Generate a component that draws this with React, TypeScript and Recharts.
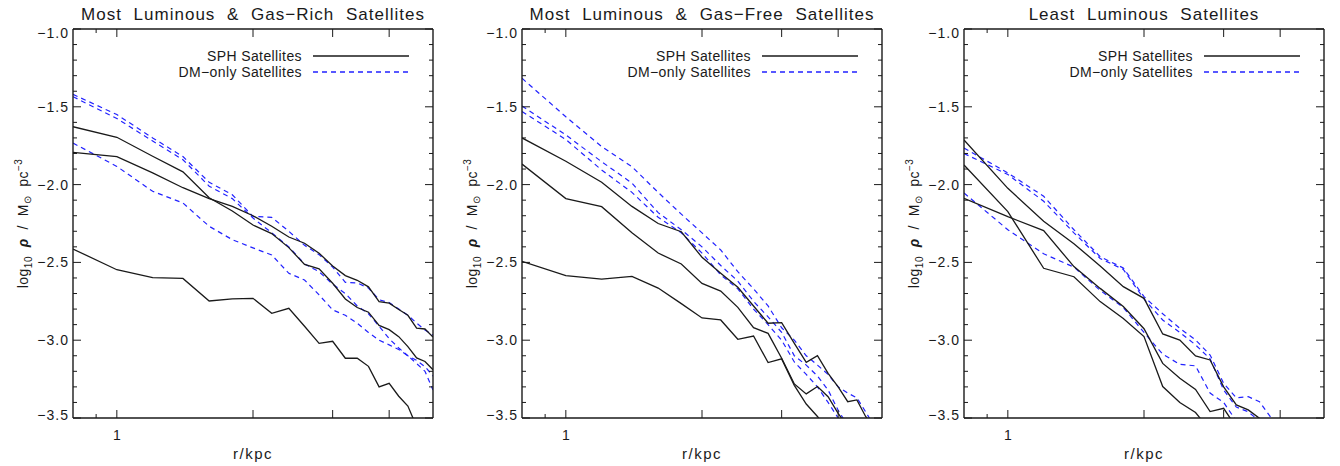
import React from 'react';
import { LineChart, Line, XAxis, YAxis, Legend } from 'recharts';

// radial bins (kpc)
const radius = [0.8, 1.0, 1.2, 1.4, 1.6, 1.8, 2.0, 2.2, 2.4, 2.6, 2.8, 3.0, 3.2, 3.4, 3.6, 3.8, 4.0, 4.2, 4.4, 4.6, 4.8, 5.0];

// most luminous, gas-rich
const richSph1 = [-2.414, -2.547, -2.598, -2.603, -2.748, -2.735, -2.731, -2.827, -2.795, -2.91, -3.02, -3.007, -3.116, -3.116, -3.168, -3.3, -3.277, -3.36, -3.423, -3.556, -3.62, -3.68];
const richSph2 = [-1.628, -1.696, -1.818, -1.918, -2.085, -2.17, -2.26, -2.315, -2.405, -2.513, -2.541, -2.634, -2.735, -2.79, -2.82, -2.905, -2.932, -2.977, -3.041, -3.114, -3.137, -3.19];
const richSph3 = [-1.793, -1.82, -1.925, -2.02, -2.09, -2.14, -2.2, -2.268, -2.337, -2.377, -2.441, -2.523, -2.585, -2.615, -2.657, -2.752, -2.762, -2.803, -2.84, -2.923, -2.928, -2.98];
const richDm1 = [-1.42, -1.55, -1.7, -1.82, -1.985, -2.065, -2.205, -2.21, -2.3, -2.39, -2.45, -2.53, -2.628, -2.632, -2.665, -2.74, -2.758, -2.8, -2.84, -2.89, -2.934, -2.968];
const richDm2 = [-1.435, -1.575, -1.72, -1.84, -2.01, -2.09, -2.215, -2.31, -2.4, -2.51, -2.56, -2.64, -2.7, -2.78, -2.83, -2.91, -2.99, -3.05, -3.1, -3.13, -3.17, -3.23];
const richDm3 = [-1.733, -1.883, -2.043, -2.118, -2.268, -2.354, -2.407, -2.452, -2.57, -2.613, -2.709, -2.805, -2.84, -2.891, -2.95, -3.0, -3.03, -3.06, -3.1, -3.15, -3.2, -3.32];

// most luminous, gas-free
const freeSph1 = [-2.493, -2.585, -2.607, -2.59, -2.665, -2.765, -2.857, -2.87, -2.994, -2.973, -3.144, -3.12, -3.29, -3.41, -3.49, -3.58, -3.66, -3.72, -3.78, -3.84, -3.9, -3.96];
const freeSph2 = [-1.868, -2.09, -2.142, -2.31, -2.44, -2.51, -2.635, -2.684, -2.789, -2.919, -2.956, -3.116, -3.281, -3.345, -3.298, -3.363, -3.47, -3.56, -3.64, -3.7, -3.76, -3.82];
const freeSph3 = [-1.7, -1.85, -1.985, -2.14, -2.25, -2.303, -2.467, -2.57, -2.66, -2.78, -2.891, -2.887, -3.02, -3.142, -3.099, -3.213, -3.3, -3.395, -3.384, -3.49, -3.56, -3.62];
const freeDm1 = [-1.317, -1.564, -1.756, -1.885, -2.05, -2.19, -2.31, -2.42, -2.56, -2.67, -2.78, -2.92, -3.0, -3.1, -3.16, -3.22, -3.3, -3.34, -3.37, -3.46, -3.55, -3.62];
const freeDm2 = [-1.495, -1.681, -1.853, -1.99, -2.18, -2.29, -2.4, -2.52, -2.62, -2.75, -2.85, -2.95, -3.1, -3.16, -3.23, -3.32, -3.45, -3.55, -3.62, -3.68, -3.74, -3.8];
const freeDm3 = [-1.53, -1.71, -1.906, -2.05, -2.21, -2.31, -2.44, -2.58, -2.67, -2.8, -2.9, -3.0, -3.14, -3.22, -3.3, -3.4, -3.5, -3.6, -3.66, -3.72, -3.78, -3.84];

// least luminous
const leastSph1 = [-1.713, -2.024, -2.236, -2.38, -2.523, -2.656, -2.731, -2.96, -2.999, -3.101, -3.127, -3.3, -3.416, -3.448, -3.502, -3.56, -3.62, -3.68, -3.74, -3.8, -3.86, -3.92];
const leastSph2 = [-2.088, -2.206, -2.296, -2.527, -2.667, -2.784, -2.926, -3.149, -3.245, -3.316, -3.459, -3.438, -3.56, -3.64, -3.72, -3.8, -3.88, -3.96, -4.0, -4.05, -4.1, -4.15];
const leastSph3 = [-1.874, -2.174, -2.538, -2.592, -2.752, -2.86, -2.977, -3.298, -3.4, -3.465, -3.58, -3.66, -3.74, -3.82, -3.9, -3.96, -4.0, -4.05, -4.1, -4.15, -4.2, -4.25];
const leastDm1 = [-1.765, -1.925, -2.075, -2.29, -2.463, -2.536, -2.72, -2.83, -2.924, -2.998, -3.095, -3.277, -3.37, -3.363, -3.395, -3.49, -3.58, -3.66, -3.72, -3.78, -3.84, -3.9];
const leastDm2 = [-1.8, -1.935, -2.107, -2.31, -2.475, -2.545, -2.735, -2.87, -2.95, -3.03, -3.12, -3.32, -3.43, -3.46, -3.52, -3.6, -3.66, -3.72, -3.78, -3.84, -3.9, -3.96];
const leastDm3 = [-2.054, -2.29, -2.445, -2.53, -2.68, -2.79, -2.95, -3.09, -3.155, -3.165, -3.34, -3.4, -3.52, -3.6, -3.68, -3.76, -3.84, -3.9, -3.96, -4.0, -4.05, -4.1];

const panelTitles = [
  'Most Luminous & Gas\u2212Rich Satellites',
  'Most Luminous & Gas\u2212Free Satellites',
  'Least Luminous Satellites',
];

const xTicks = [0.9, 1, 2, 3, 4];
const xMajor = [1, 2, 3, 4];
const xLabelled = [1];
const yTicks = [-3.5, -3.4, -3.3, -3.2, -3.1, -3.0, -2.9, -2.8, -2.7, -2.6, -2.5, -2.4, -2.3, -2.2, -2.1, -2.0,
  -1.9, -1.8, -1.7, -1.6, -1.5, -1.4, -1.3, -1.2, -1.1, -1.0];

const toRows = (s1: number[], s2: number[], s3: number[], d1: number[], d2: number[], d3: number[]) =>
  radius.map((r, i) => ({ r, s1: s1[i], s2: s2[i], s3: s3[i], d1: d1[i], d2: d2[i], d3: d3[i] }));

const panels = [
  toRows(richSph1, richSph2, richSph3, richDm1, richDm2, richDm3),
  toRows(freeSph1, freeSph2, freeSph3, freeDm1, freeDm2, freeDm3),
  toRows(leastSph1, leastSph2, leastSph3, leastDm1, leastDm2, leastDm3),
];

const FONT = '"Liberation Sans", Arial, sans-serif';
const INK = '#1a1a1a';
const BLUE = '#2222ff';
const DASH = '5 4';

const CHART_W = 440;
const CHART_H = 466;
const PLOT_L = 65;
const PLOT_T = 29;
const PLOT_W = 360;
const PLOT_H = 389;
const chartLefts = [8, 457, 899];

const isMajorY = (v: number) => Math.abs(v * 2 - Math.round(v * 2)) < 1e-6;
const fmt = (v: number) => v.toFixed(1).replace('-', '\u2212');

function LeftTick(props: any) {
  const { x, y, payload } = props;
  const v = payload.value;
  const major = isMajorY(v);
  const nudge = v > -1.001 ? 4 : v < -3.499 ? -3 : 0;
  return (
    <g>
      <line x1={x} x2={x + (major ? 8 : 4)} y1={y} y2={y} stroke={INK} strokeWidth={1} />
      {major && (
        <text x={x - 4} y={y + nudge} dy="0.36em" textAnchor="end" fill={INK}
          fontFamily={FONT} fontSize={14} letterSpacing={1}>
          {fmt(v)}
        </text>
      )}
    </g>
  );
}

function RightTick(props: any) {
  const { x, y, payload } = props;
  const major = isMajorY(payload.value);
  return <line x1={x} x2={x - (major ? 8 : 4)} y1={y} y2={y} stroke={INK} strokeWidth={1} />;
}

function BottomTick(props: any) {
  const { x, y, payload } = props;
  const v = payload.value;
  const major = xMajor.includes(v);
  return (
    <g>
      <line x1={x} x2={x} y1={y} y2={y - (major ? 8 : 4)} stroke={INK} strokeWidth={1} />
      {xLabelled.includes(v) && (
        <text x={x} y={y + 17} dy="0.36em" textAnchor="middle" fill={INK} fontFamily={FONT} fontSize={14}>
          {String(v)}
        </text>
      )}
    </g>
  );
}

function TopTick(props: any) {
  const { x, y, payload } = props;
  const major = xMajor.includes(payload.value);
  return <line x1={x} x2={x} y1={y} y2={y + (major ? 8 : 4)} stroke={INK} strokeWidth={1} />;
}

function YTitle() {
  const x = 20;
  const y = PLOT_T + PLOT_H / 2;
  return (
    <text x={x} y={y} transform={`rotate(-90 ${x} ${y})`} textAnchor="middle" fill={INK}
      fontFamily={FONT} fontSize={14} letterSpacing={0.5}>
      log<tspan dy={4} fontSize={10}>10</tspan>
      <tspan dy={-4} fontWeight="bold" fontStyle="italic">{'\u00a0\u00a0\u03c1'}</tspan>
      <tspan>{'\u00a0\u00a0/\u00a0\u00a0M'}</tspan>
      <tspan dy={3} fontSize={10}>{'\u2299'}</tspan>
      <tspan dy={-3}>{'\u00a0\u00a0pc'}</tspan>
      <tspan dy={-6} fontSize={10}>{'\u22123'}</tspan>
    </text>
  );
}

function XTitle() {
  return (
    <text x={PLOT_L + PLOT_W / 2} y={PLOT_T + PLOT_H + 36} dy="0.36em" textAnchor="middle" fill={INK}
      fontFamily={FONT} fontSize={15} letterSpacing={1.5}>
      r/kpc
    </text>
  );
}

function PanelLegend() {
  const t = { fill: INK, fontFamily: FONT, fontSize: 14, letterSpacing: 0.4 } as const;
  return (
    <svg width={PLOT_W} height={60} style={{ display: 'block' }}>
      <text x={229} y={27} dy="0.36em" textAnchor="end" {...t}>SPH Satellites</text>
      <line x1={240} x2={336} y1={27} y2={27} stroke={INK} strokeWidth={1.3} />
      <text x={229} y={43} dy="0.36em" textAnchor="end" {...t}>DM{'\u2212'}only Satellites</text>
      <line x1={240} x2={336} y1={43} y2={43} stroke={BLUE} strokeWidth={1.3} strokeDasharray={DASH} />
    </svg>
  );
}

function Panel({ data, title, left }: { data: any[]; title: string; left: number }) {
  return (
    <div style={{ position: 'absolute', left, top: 0, width: CHART_W, height: CHART_H }}>
      <div style={{
        position: 'absolute', left: PLOT_L - 40, top: 4, width: PLOT_W + 80, textAlign: 'center',
        fontFamily: FONT, fontSize: 17, lineHeight: '22px', letterSpacing: 1, wordSpacing: 6, color: INK,
        whiteSpace: 'nowrap',
      }}>
        {title}
      </div>
      <LineChart width={CHART_W} height={CHART_H} data={data}
        margin={{ top: PLOT_T - 1, right: CHART_W - PLOT_L - PLOT_W - 1, bottom: 0, left: 0 }}>
        <XAxis xAxisId="b" dataKey="r" type="number" scale="log" domain={[0.8, 5]} allowDataOverflow
          ticks={xTicks} interval={0} height={CHART_H - PLOT_T - PLOT_H} tickSize={0} tickMargin={0}
          tickLine={false} tick={BottomTick} axisLine={{ stroke: INK, strokeWidth: 1.4 }}
          label={{ content: () => <XTitle /> }} />
        <XAxis xAxisId="t" orientation="top" dataKey="r" type="number" scale="log" domain={[0.8, 5]}
          allowDataOverflow ticks={xTicks} interval={0} height={1} tickSize={0} tickMargin={0}
          tickLine={false} tick={TopTick} axisLine={{ stroke: INK, strokeWidth: 1.4 }} />
        <YAxis yAxisId="l" type="number" domain={[-3.5, -1]} allowDataOverflow ticks={yTicks} interval={0}
          width={PLOT_L} tickSize={0} tickMargin={0} tickLine={false} tick={LeftTick}
          axisLine={{ stroke: INK, strokeWidth: 1.4 }} label={{ content: () => <YTitle /> }} />
        <YAxis yAxisId="r" orientation="right" type="number" domain={[-3.5, -1]} allowDataOverflow
          ticks={yTicks} interval={0} width={1} tickSize={0} tickMargin={0} tickLine={false}
          tick={RightTick} axisLine={{ stroke: INK, strokeWidth: 1.4 }} />
        <Legend layout="vertical" align="center" verticalAlign="middle"
          wrapperStyle={{ position: 'absolute', left: PLOT_L, top: PLOT_T, width: PLOT_W, height: 60 }}
          content={() => <PanelLegend />} />
        {['d1', 'd2', 'd3'].map((k) => (
          <Line key={k} xAxisId="b" yAxisId="l" type="linear" dataKey={k} stroke={BLUE} strokeWidth={1.2}
            strokeDasharray={DASH} dot={false} activeDot={false} isAnimationActive={false} />
        ))}
        {['s1', 's2', 's3'].map((k) => (
          <Line key={k} xAxisId="b" yAxisId="l" type="linear" dataKey={k} stroke={INK} strokeWidth={1.3}
            dot={false} activeDot={false} isAnimationActive={false} />
        ))}
      </LineChart>
    </div>
  );
}

export default function App() {
  return (
    <div style={{ position: 'absolute', left: 0, top: 0, width: 1340, height: 466, background: '#fff' }}>
      {panels.map((data, i) => (
        <Panel key={i} data={data} title={panelTitles[i]} left={chartLefts[i]} />
      ))}
    </div>
  );
}
